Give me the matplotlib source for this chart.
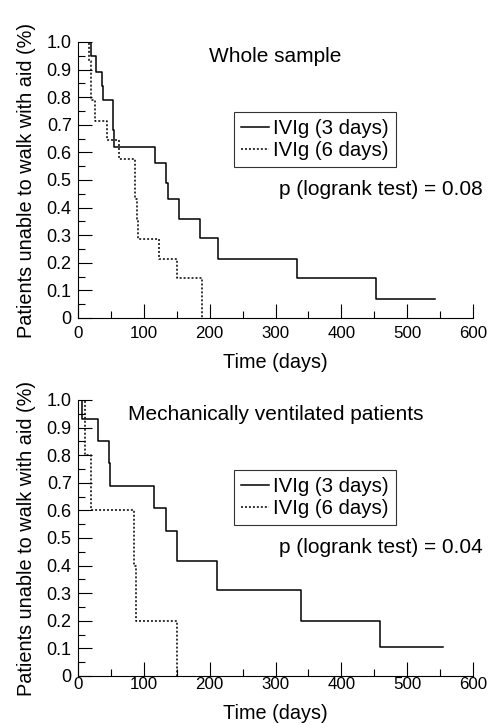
import matplotlib
matplotlib.use("Agg")
import matplotlib.pyplot as plt
from matplotlib.ticker import MultipleLocator, FuncFormatter

plt.rcParams['font.family'] = ['Liberation Sans', 'DejaVu Sans']

# Kaplan-Meier step data (days, proportion)
top_3d_t = [0, 19, 27, 36, 38, 53, 55, 117, 133, 136, 153, 185, 213, 333, 452, 543]
top_3d_s = [1.0, 0.95, 0.89, 0.84, 0.79, 0.68, 0.62, 0.56, 0.49, 0.43, 0.36, 0.29, 0.215, 0.145, 0.07, 0.07]
top_6d_t = [0, 17, 19, 26, 44, 62, 86, 89, 91, 123, 151, 189]
top_6d_s = [1.0, 0.93, 0.79, 0.715, 0.645, 0.575, 0.43, 0.36, 0.285, 0.215, 0.145, 0.0]

bot_3d_t = [0, 6, 30, 47, 49, 115, 133, 150, 211, 339, 458, 555]
bot_3d_s = [1.0, 0.93, 0.85, 0.77, 0.69, 0.61, 0.525, 0.415, 0.31, 0.2, 0.105, 0.105]
bot_6d_t = [0, 10, 19, 85, 88, 150]
bot_6d_s = [1.0, 0.8, 0.6, 0.4, 0.2, 0.0]

titles = ["Whole sample", "Mechanically ventilated patients"]
pvals = ["p (logrank test) = 0.08", "p (logrank test) = 0.04"]
labels = ["IVIg (3 days)", "IVIg (6 days)"]

lab_fs = 14.3
txt_fs = 15

fig = plt.figure(figsize=(4.89, 7.25), dpi=100)
ax1 = fig.add_axes([0.1595, 0.5614, 0.8078, 0.3807])
ax2 = fig.add_axes([0.1595, 0.0676, 0.8078, 0.3807])

panels = [(ax1, top_3d_t, top_3d_s, top_6d_t, top_6d_s),
          (ax2, bot_3d_t, bot_3d_s, bot_6d_t, bot_6d_s)]
xpads = [5.5, 0.5]
xlabpads = [9, 9]

def yfmt(v, pos):
    return "0" if abs(v) < 1e-9 else "%.1f" % v

for i, (ax, t3, s3, t6, s6) in enumerate(panels):
    ax.step(t3, s3, where='post', color='black', lw=1.1, label=labels[0])
    ax.step(t6, s6, where='post', color='black', lw=1.1, linestyle=(0, (1.3, 1.3)), label=labels[1])
    ax.set_xlim(0, 600)
    ax.set_ylim(0, 1.0)
    ax.spines['top'].set_visible(False)
    ax.spines['right'].set_visible(False)
    ax.xaxis.set_major_locator(MultipleLocator(100))
    ax.xaxis.set_minor_locator(MultipleLocator(50))
    ax.yaxis.set_major_locator(MultipleLocator(0.1))
    ax.yaxis.set_minor_locator(MultipleLocator(0.05))
    ax.yaxis.set_major_formatter(FuncFormatter(yfmt))
    ax.tick_params(which='major', direction='in', length=10, width=0.8)
    ax.tick_params(which='minor', direction='in', length=5, width=0.8)
    ax.tick_params(axis='x', which='major', pad=xpads[i], labelsize=12.2)
    ax.tick_params(axis='y', which='major', pad=4.5, labelsize=13)
    ax.set_xlabel("Time (days)", fontsize=lab_fs, labelpad=xlabpads[i])
    ax.set_ylabel("Patients unable to walk with aid (%)", fontsize=lab_fs, labelpad=8)
    ax.text(0.5, 0.946, titles[i], transform=ax.transAxes, ha='center', va='center', fontsize=txt_fs)
    ax.text(1.025, 0.464, pvals[i], transform=ax.transAxes, ha='right', va='center', fontsize=txt_fs)
    leg = ax.legend(loc='upper left', bbox_to_anchor=(0.394, 0.746), fontsize=14.7,
                    frameon=True, fancybox=False, handlelength=1.37, handletextpad=0.2,
                    labelspacing=0.15, borderpad=0.35, borderaxespad=0)
    leg.get_frame().set_edgecolor('black')
    leg.get_frame().set_linewidth(0.8)

fig.savefig("out.png", dpi=100)
